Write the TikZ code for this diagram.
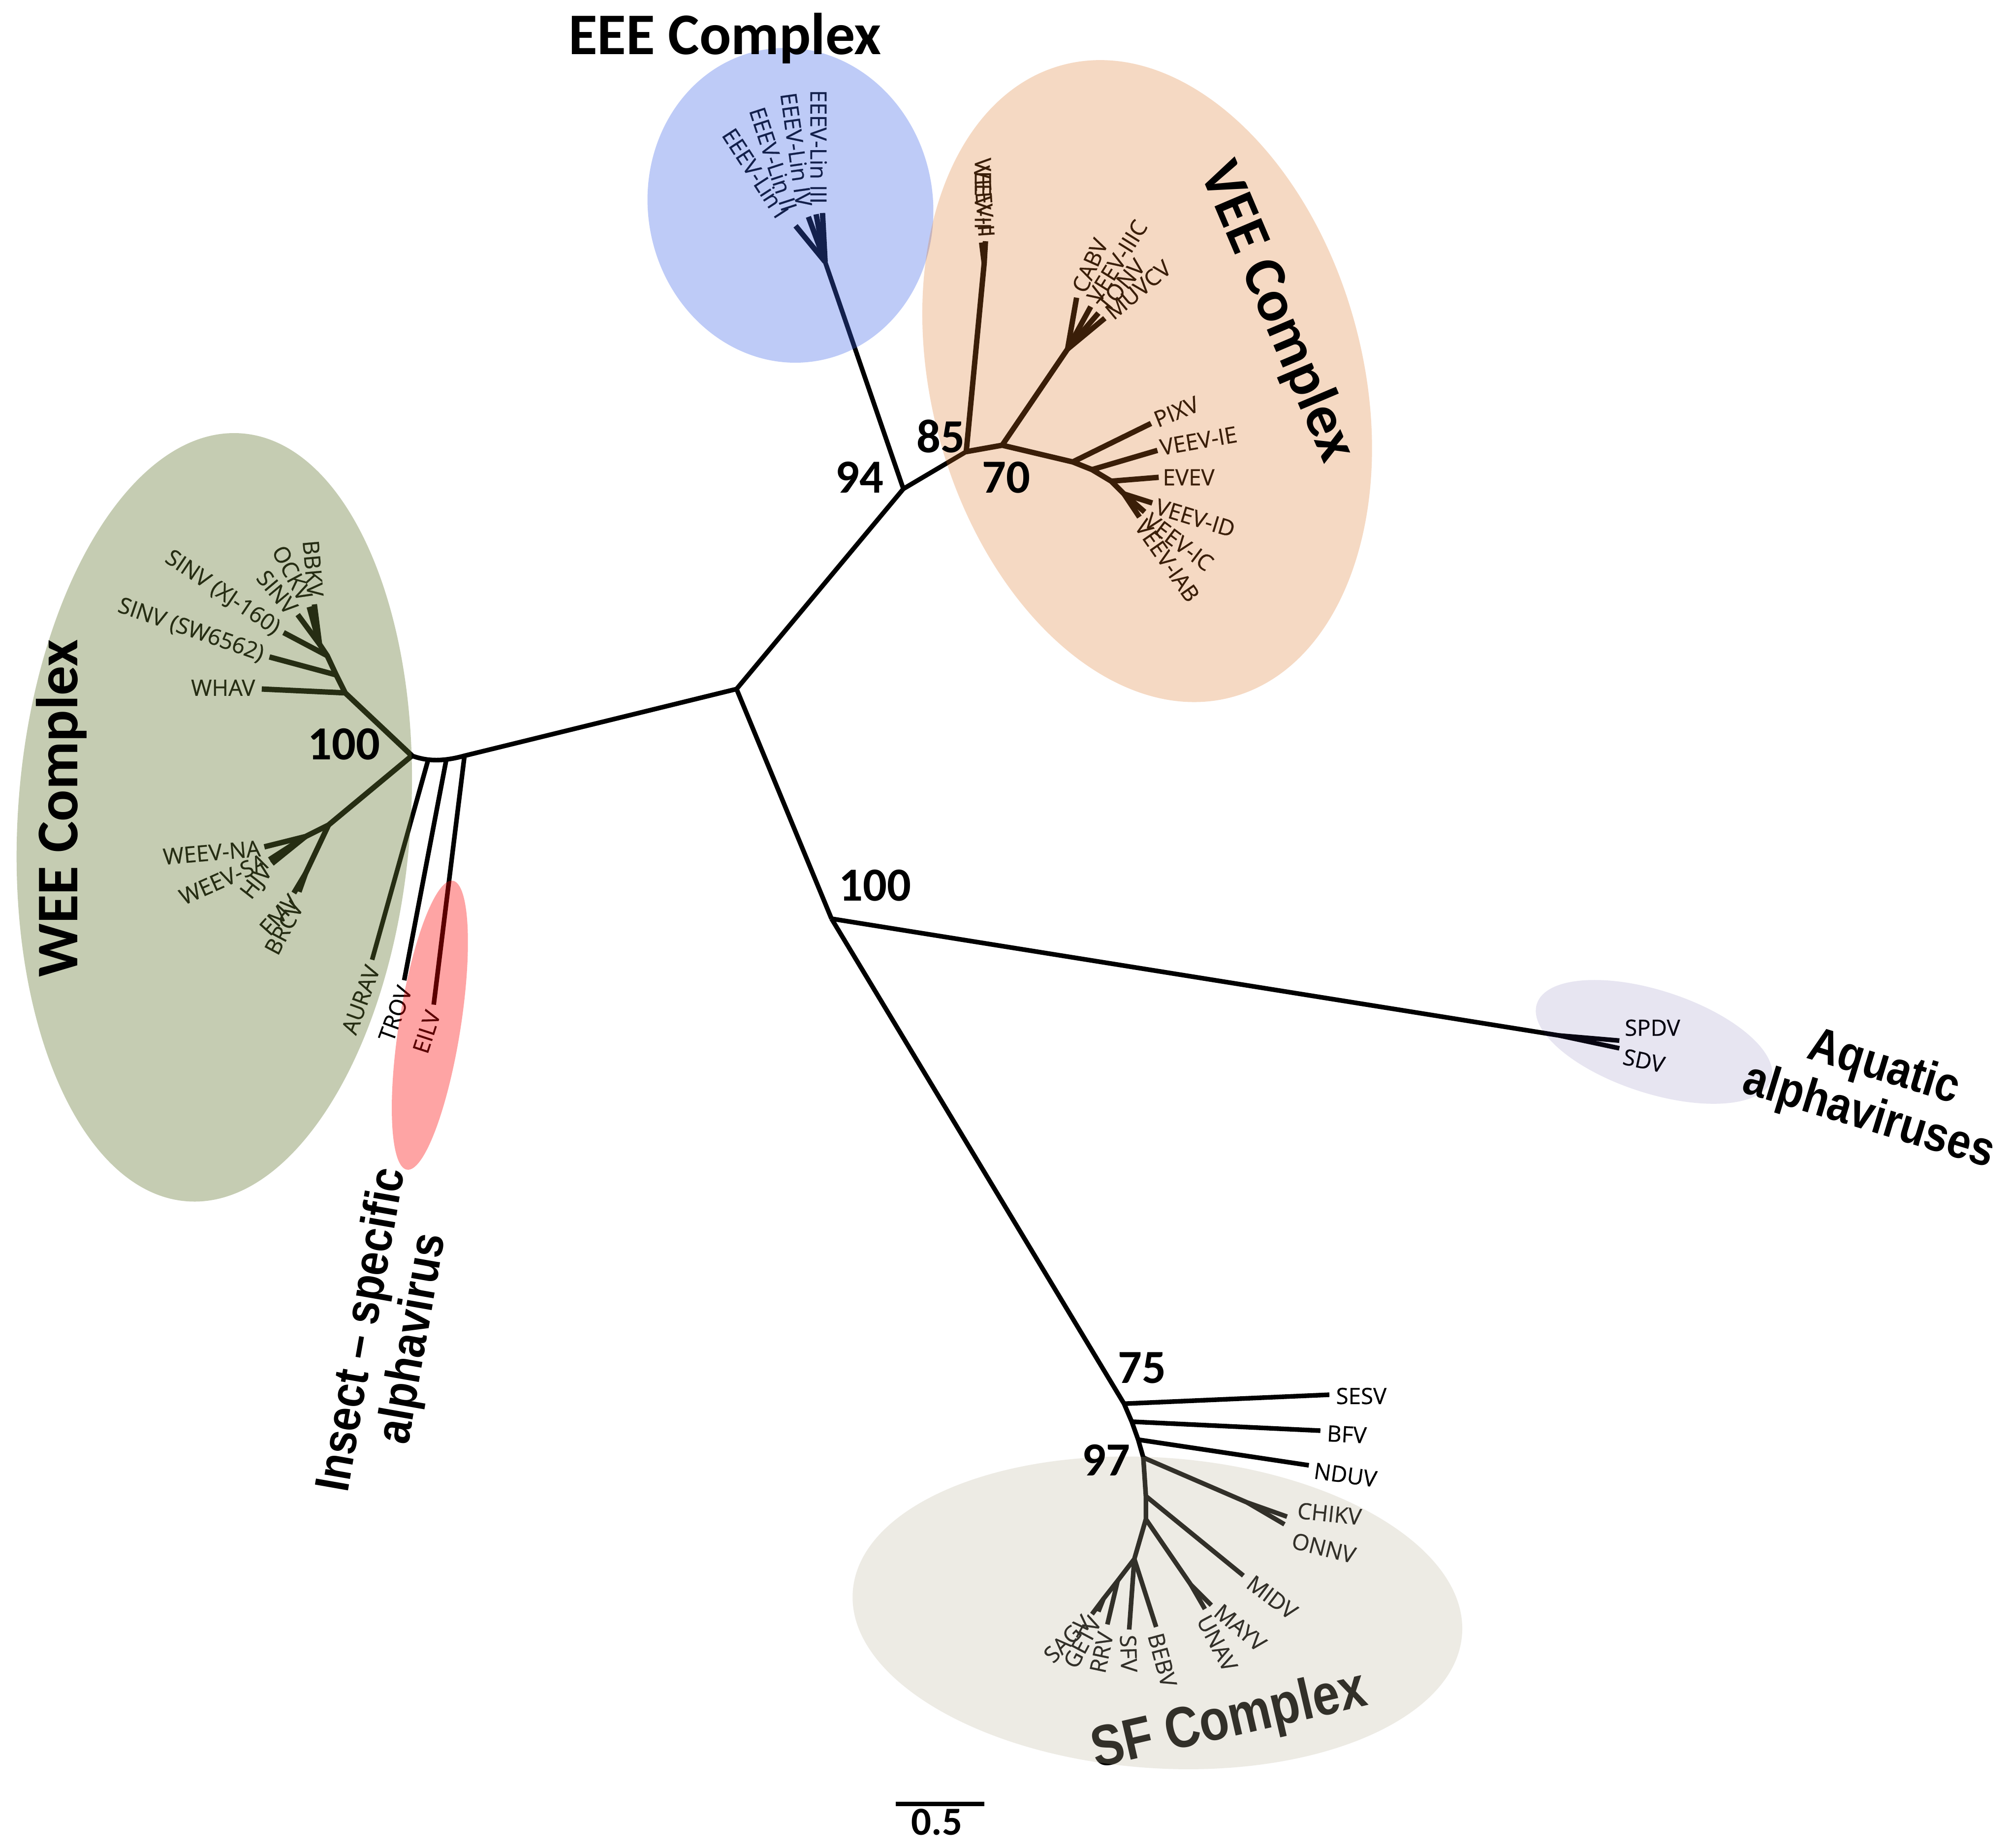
\documentclass[tikz,border=0pt]{standalone}
\usepackage{fontspec}
\setmainfont{Open Sans}
\newfontfamily\taxfont{Open Sans}[FakeBold=0.5]
\newfontfamily\calibfont{Carlito}
\newfontfamily\arialfont{Liberation Sans}
\definecolor{blueov}{RGB}{60,100,233}
\definecolor{orangeov}{RGB}{219,113,30}
\definecolor{greenov}{RGB}{101,120,51}
\definecolor{redov}{RGB}{253,0,0}
\definecolor{lavov}{RGB}{63,47,147}
\definecolor{sfov}{RGB}{191,180,157}
\newcommand{\narrowtxt}[1]{\scalebox{0.87}[1]{#1}}
\begin{document}
\begin{tikzpicture}[x=1pt,y=-1pt,
  br/.style={line width=3.6pt, line join=round},
  cb/.style={line width=4.2pt, line join=round},
  tax/.style={font=\taxfont\fontsize{17.5}{19}\selectfont, inner sep=1pt},
  boot/.style={font=\calibfont\bfseries\fontsize{37}{40}\selectfont, inner sep=0pt},
  ttl/.style={font=\calibfont\bfseries\fontsize{46}{50}\selectfont, inner sep=0pt},
  atl/.style={font=\arialfont\bfseries\fontsize{38}{40}\selectfont, inner sep=0pt, align=center}]
\useasboundingbox (0,0) rectangle (1568,1440);
\fill[white] (0,0) rectangle (1568,1440);

% ---------- coordinates ----------
\coordinate (C) at (574,537);
% EEE / VEE
\coordinate (N94) at (704,381);
\coordinate (Neee) at (643,204);
\coordinate (e1) at (641,166);
\coordinate (e2) at (636,167);
\coordinate (e3) at (630,169);
\coordinate (e4) at (620,176);
\coordinate (N85) at (753,352);
\coordinate (N70) at (781,347);
\coordinate (Nvf) at (767,205);
\coordinate (tIF) at (768,188);
\coordinate (tII) at (765,189);
\coordinate (Nv3) at (832,272);
\coordinate (tCABV) at (839,232);
\coordinate (tIIIC) at (850,239);
\coordinate (tTONV) at (856,244);
\coordinate (tMUV) at (861,248);
\coordinate (Nie) at (836,360);
\coordinate (Nv5) at (851,366);
\coordinate (Nv6) at (866,375);
\coordinate (Nv7) at (876,385);
\coordinate (tPIXV) at (897,330);
\coordinate (tIE) at (902,351);
\coordinate (tEVEV) at (903,372);
\coordinate (tID) at (898,392);
\coordinate (tIC) at (892,399);
\coordinate (tIAB) at (888,403);
% WEE / insect
\coordinate (J3) at (362,589);
\coordinate (J2) at (348,591);
\coordinate (J1) at (334,591);
\coordinate (N100) at (321,589);
\coordinate (tAURAV) at (290,748);
\coordinate (tTROV) at (315,764);
\coordinate (tEILV) at (338,783);
\coordinate (Nw1) at (269,540);
\coordinate (Nw1b) at (262,526);
\coordinate (Nw1c) at (255,511);
\coordinate (Nw1d) at (249,502);
\coordinate (tWHAV) at (204,537);
\coordinate (tSW) at (210,512);
\coordinate (tXJ) at (221,493);
\coordinate (tSINV) at (232,479);
\coordinate (tOCKV) at (241,473);
\coordinate (tBBKV) at (245,471);
\coordinate (Nw2) at (256,643);
\coordinate (Nw2a) at (238,652);
\coordinate (tNA) at (206,660);
\coordinate (tSA) at (210,670);
\coordinate (tHJV) at (212,673);
\coordinate (Nw2f) at (238,681);
\coordinate (tFMV) at (233,695);
\coordinate (tBRCV) at (229,696);
% aquatic
\coordinate (N100b) at (648,716);
\coordinate (Naq) at (1215,807);
\coordinate (tSPDV) at (1262,811);
\coordinate (tSDV) at (1262,817);
% SF
\coordinate (N75) at (876,1094);
\coordinate (NB) at (882,1108);
\coordinate (NN) at (887,1122);
\coordinate (N97) at (891,1136);
\coordinate (NM) at (893,1166);
\coordinate (NU) at (893,1184);
\coordinate (NBe) at (884,1215);
\coordinate (NR) at (871,1232);
\coordinate (Nch) at (972,1171);
\coordinate (Nmu) at (928,1235);
\coordinate (Nsg) at (860,1246);
\coordinate (tSESV) at (1036,1087);
\coordinate (tBFV) at (1029,1115);
\coordinate (tNDUV) at (1020,1142);
\coordinate (tCHIKV) at (1003,1182);
\coordinate (tONNV) at (1001,1188);
\coordinate (tMIDV) at (969,1228);
\coordinate (tMAYV) at (944,1251);
\coordinate (tUNAV) at (939,1254);
\coordinate (tBEBV) at (901,1268);
\coordinate (tSFV) at (880,1270);
\coordinate (tRRV) at (863,1266);
\coordinate (tGETV) at (856,1256);
\coordinate (tSAGV) at (851,1258);
% scale bar
\coordinate (sb1) at (698,1406);
\coordinate (sb2) at (767,1406);

% ---------- branches ----------
\draw[br] (C) -- (N94) -- (Neee);
\foreach \t in {e1,e2,e3,e4} \draw[cb] (Neee) -- (\t);
\draw[br] (N94) -- (N85);
\draw[cb] (N85) -- (N70) -- (Nie) -- (Nv5) -- (Nv6) -- (Nv7) -- (tIC);
\draw[cb] (Nv7) -- (tIAB);
\draw[cb] (N85) -- (Nvf) -- (tIF);
\draw[cb] (Nvf) -- (tII);
\draw[cb] (N70) -- (Nv3);
\foreach \t in {tCABV,tIIIC,tTONV,tMUV} \draw[cb] (Nv3) -- (\t);
\draw[cb] (Nie) -- (tPIXV);
\draw[cb] (Nv5) -- (tIE);
\draw[cb] (Nv6) -- (tEVEV);
\draw[cb] (Nv7) -- (tID);

\draw[br] (C) -- (J3) .. controls (344,594) and (332,593) .. (N100);
\draw[br] (J1) -- (tAURAV);
\draw[br] (J2) -- (tTROV);
\draw[br] (J3) -- (tEILV);
\draw[cb] (N100) -- (Nw1) -- (Nw1b) -- (Nw1c) -- (Nw1d) -- (tBBKV);
\draw[cb] (Nw1d) -- (tOCKV);
\draw[cb] (Nw1) -- (tWHAV);
\draw[cb] (Nw1b) -- (tSW);
\draw[cb] (Nw1c) -- (tXJ);
\draw[cb] (Nw1d) -- (tSINV);
\draw[cb] (N100) -- (Nw2) -- (Nw2a) -- (tNA);
\draw[cb] (Nw2a) -- (tSA);
\draw[cb] (Nw2a) -- (tHJV);
\draw[cb] (Nw2) -- (Nw2f) -- (tFMV);
\draw[cb] (Nw2f) -- (tBRCV);

\draw[br] (C) -- (N100b);
\draw[br] (N100b) -- (Naq) -- (tSPDV);
\draw[br] (Naq) -- (tSDV);

\draw[br] (N100b) -- (N75) -- (NB) -- (NN) -- (N97) -- (NM) -- (NU) -- (NBe) -- (NR) -- (Nsg) -- (tGETV);
\draw[br] (Nsg) -- (tSAGV);
\draw[br] (NR) -- (tRRV);
\draw[br] (NBe) -- (tSFV);
\draw[br] (NBe) -- (tBEBV);
\draw[br] (N75) -- (tSESV);
\draw[br] (NB) -- (tBFV);
\draw[br] (NN) -- (tNDUV);
\draw[br] (N97) -- (Nch) -- (tCHIKV);
\draw[br] (Nch) -- (tONNV);
\draw[br] (NM) -- (tMIDV);
\draw[br] (NU) -- (Nmu) -- (tMAYV);
\draw[br] (Nmu) -- (tUNAV);

% ---------- taxon labels ----------
\node[tax, rotate=-90, anchor=east] (lE1) at (638,160) {EEEV-Lin III};
\node[tax, rotate=-82, anchor=east] (lE2) at (627,162) {EEEV-Lin IV};
\node[tax, rotate=-72, anchor=east] (lE3) at (616,165) {EEEV-Lin II};
\node[tax, rotate=-57, anchor=east] (lE4) at (611,169) {EEEV-Lin I};

\node[tax, rotate=-90, anchor=east] (lIF) at (766,184) {VEEV-IF};
\node[tax, rotate=-86, anchor=east] (lII) at (769,186) {VEEV-II};
\node[tax, rotate=66, anchor=west] (lCABV) at (840,228) {CABV};
\node[tax, rotate=58, anchor=west] (lIIIC) at (851,235) {VEEV-IIIC};
\node[tax, rotate=50, anchor=west] (lTONV) at (858,241) {TONV};
\node[tax, rotate=40, anchor=west] (lMUV) at (863,246) {MUVCV};
\node[tax, rotate=22, anchor=west] (lPIXV) at (899,328) {PIXV};
\node[tax, rotate=10, anchor=west] (lIE) at (903,349) {VEEV-IE};
\node[tax, anchor=west] (lEVEV) at (905,372) {EVEV};
\node[tax, rotate=-17, anchor=west] (lID) at (900,394) {VEEV-ID};
\node[tax, rotate=-37, anchor=west] (lIC) at (893,403) {VEEV-IC};
\node[tax, rotate=-55, anchor=west] (lIAB) at (888,406) {VEEV-IAB};

\node[tax, anchor=east] (lWHAV) at (200,536) {WHAV};
\node[tax, rotate=-19, anchor=east] (lSW) at (206,511) {SINV (SW6562)};
\node[tax, rotate=-34, anchor=east] (lXJ) at (217,492) {SINV (XJ-160)};
\node[tax, rotate=-50, anchor=east] (lSINV) at (229,477) {SINV};
\node[tax, rotate=-62, anchor=east] (lOCKV) at (239,468) {OCKV};
\node[tax, rotate=-85, anchor=east] (lBBKV) at (246,466) {BBKV};
\node[tax, rotate=5, anchor=east] (lNA) at (204,661) {WEEV-NA};
\node[tax, rotate=24, anchor=east] (lSA) at (208,670) {WEEV-SA};
\node[tax, rotate=52, anchor=east] (lHJV) at (210,676) {HJV};
\node[tax, rotate=48, anchor=east] (lFMV) at (230,699) {FMV};
\node[tax, rotate=62, anchor=east] (lBRCV) at (232,703) {BRCV};
\node[tax, rotate=70, anchor=east] (lAURAV) at (291,752) {AURAV};
\node[tax, rotate=70, anchor=east] (lTROV) at (316,768) {TROV};
\node[tax, rotate=72, anchor=east] (lEILV) at (338,787) {EILV};

\node[tax, anchor=west] (lSPDV) at (1265,801) {SPDV};
\node[tax, rotate=-12, anchor=west] (lSDV) at (1264,823) {SDV};

\node[tax, anchor=west] (lSESV) at (1040,1088) {SESV};
\node[tax, rotate=-3, anchor=west] (lBFV) at (1033,1117) {BFV};
\node[tax, rotate=-8, anchor=west] (lNDUV) at (1023,1146) {NDUV};
\node[tax, rotate=-6, anchor=west] (lCHIKV) at (1010,1177) {CHIKV};
\node[tax, rotate=-14, anchor=west] (lONNV) at (1006,1200) {ONNV};
\node[tax, rotate=-37, anchor=west] (lMIDV) at (973,1231) {MIDV};
\node[tax, rotate=-40, anchor=west] (lMAYV) at (948,1253) {MAYV};
\node[tax, rotate=-62, anchor=west] (lUNAV) at (937,1259) {UNAV};
\node[tax, rotate=-75, anchor=west] (lBEBV) at (900,1272) {BEBV};
\node[tax, rotate=-88, anchor=west] (lSFV) at (879,1273) {SFV};
\node[tax, rotate=78, anchor=east] (lRRV) at (862,1271) {RRV};
\node[tax, rotate=62, anchor=east] (lGETV) at (854,1260) {GETV};
\node[tax, rotate=45, anchor=east] (lSAGV) at (848,1261) {SAGV};

\node[font=\arialfont\bfseries\fontsize{45}{48}\selectfont, inner sep=0pt, rotate=13] (sfttl) at (958,1342) {\scalebox{0.84}[1]{SF Complex}};

% ---------- translucent clade ellipses ----------
\fill[greenov, fill opacity=.375, rotate around={-4:(167,637)}] (167,637) ellipse [x radius=153pt, y radius=300pt];
\fill[redov, fill opacity=.355, rotate around={-9:(335,799)}] (335,799) ellipse [x radius=24pt, y radius=114pt];
\fill[blueov, fill opacity=.33, rotate around={10:(616,160)}] (616,160) ellipse [x radius=111pt, y radius=123pt];
\fill[orangeov, fill opacity=.265, rotate around={15:(894,297)}] (894,297) ellipse [x radius=168pt, y radius=255pt];
\fill[lavov, fill opacity=.12, rotate around={-18:(1289,812)}] (1289,812) ellipse [x radius=96pt, y radius=40pt];
\fill[sfov, fill opacity=.267, rotate around={-4:(902,1257)}] (902,1257) ellipse [x radius=238pt, y radius=121pt];

% ---------- titles and support values ----------
\node[ttl] (eeettl) at (565,30) {EEE Complex};
\node[ttl, rotate=-67] (veettl) at (995,243) {VEE Complex};
\node[ttl, rotate=90] (weettl) at (48,630) {WEE Complex};
\node[atl, rotate=80] (insect) at (303,1040) {\narrowtxt{Insect – specific}\\\narrowtxt{alphavirus}};
\node[atl, rotate=-17] (aquatic) at (1462,852) {\narrowtxt{Aquatic}\\\narrowtxt{alphaviruses}};

\node[boot] (b94) at (670,372) {94};
\node[boot] (b85) at (733,340) {85};
\node[boot] (b70) at (784,372) {70};
\node[boot] (b100w) at (268,580) {100};
\node[boot] (b100a) at (682,690) {100};
\node[boot] (b75) at (890,1066) {75};
\node[boot] (b97) at (862,1138) {97};

\draw[line width=3.5pt] (sb1) -- (sb2);
\node[font=\calibfont\bfseries\fontsize{31}{34}\selectfont, inner sep=0pt] (sblab) at (730,1420) {0.5};
\end{tikzpicture}
\end{document}
